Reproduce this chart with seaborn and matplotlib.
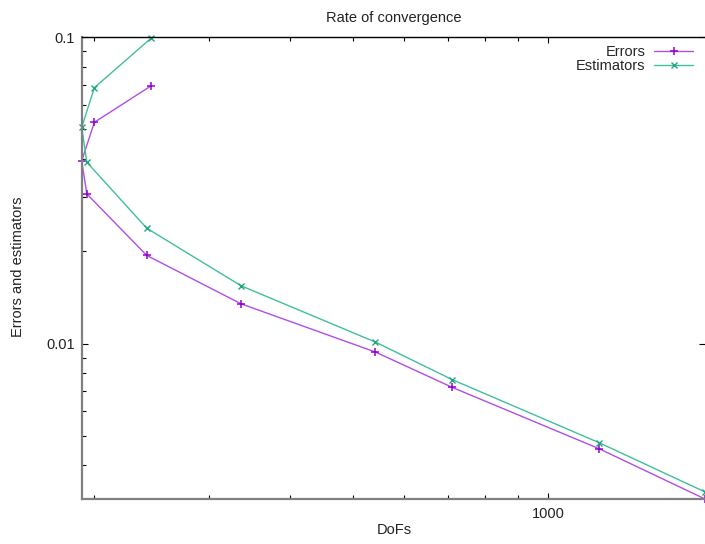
import pandas as pd
import matplotlib
matplotlib.use("Agg")
import matplotlib.pyplot as plt
import matplotlib.ticker as mticker
import seaborn as sns

# dados (ordem original dos pontos)
dofs = [244.5, 200, 191.2, 194.7, 240.8, 336.5, 542, 712, 1197, 1743]
errors = [0.0694, 0.0528, 0.0395, 0.0308, 0.0194, 0.01348, 0.00938, 0.00719, 0.00454, 0.00311]
estimators = [0.0993, 0.0685, 0.0508, 0.0391, 0.0238, 0.01544, 0.01011, 0.00762, 0.00475, 0.00328]

titulo = "Rate of convergence"
rotulo_x = "DoFs"
rotulo_y = "Errors and estimators"


def main():
    sns.set_theme(style="white")
    plt.rcParams['font.family'] = ['Liberation Sans', 'DejaVu Sans']
    plt.rcParams['font.size'] = 10.5

    df = pd.DataFrame({'DoFs': dofs, 'Errors': errors, 'Estimators': estimators})

    fig = plt.figure(figsize=(7.05, 5.44), dpi=100)
    ax = fig.add_axes([0.1159, 0.0833, 0.8841, 0.8481])

    sns.lineplot(data=df, x='DoFs', y='Errors', sort=False, estimator=None, ax=ax,
                 color='#b04ee6', marker='+', markersize=6, markeredgewidth=1.1,
                 markeredgecolor='#9400d3', linewidth=1.0, label='Errors', clip_on=False)
    sns.lineplot(data=df, x='DoFs', y='Estimators', sort=False, estimator=None, ax=ax,
                 color='#40bf9c', marker='x', markersize=5, markeredgewidth=1.0,
                 markeredgecolor='#20a882', linewidth=1.0, label='Estimators', clip_on=False)

    ax.set_xscale('log')
    ax.set_yscale('log')
    ax.set_xlim(191.2, 1745)
    ax.set_ylim(0.003114, 0.1)

    # ticks estilo gnuplot
    ax.xaxis.set_major_locator(mticker.FixedLocator([1000]))
    ax.xaxis.set_major_formatter(mticker.FixedFormatter(['1000']))
    ax.xaxis.set_minor_locator(mticker.LogLocator(base=10, subs=range(2, 10)))
    ax.xaxis.set_minor_formatter(mticker.NullFormatter())
    ax.yaxis.set_major_locator(mticker.FixedLocator([0.01, 0.1]))
    ax.yaxis.set_major_formatter(mticker.FixedFormatter(['0.01', '0.1']))
    ax.yaxis.set_minor_locator(mticker.LogLocator(base=10, subs=range(2, 10)))
    ax.yaxis.set_minor_formatter(mticker.NullFormatter())

    ax.tick_params(which='both', direction='in', top=True, right=True,
                   bottom=True, left=True, color='black', width=0.8)
    ax.tick_params(which='major', length=4.5, labelsize=10.5, labelcolor='#222222')
    ax.tick_params(axis='y', which='major', pad=5)
    ax.tick_params(axis='x', which='major', pad=6)
    ax.tick_params(which='minor', length=3)
    ax.tick_params(axis='y', which='minor', right=False)

    for lado in ['left', 'bottom']:
        ax.spines[lado].set_color('#808080')
        ax.spines[lado].set_linewidth(1.6)
    ax.spines['top'].set_color('black')
    ax.spines['top'].set_linewidth(1.0)
    ax.spines['right'].set_visible(False)

    ax.set_title(titulo, fontsize=10.5, pad=11, color='#222222')
    ax.set_xlabel(rotulo_x, fontsize=10.5, color='#222222')
    ax.set_ylabel(rotulo_y, fontsize=10.5, color='#222222')
    ax.xaxis.set_label_coords(0.501, -0.052)
    ax.yaxis.set_label_coords(-0.091, 0.502)

    ax.legend(loc='upper right', bbox_to_anchor=(0.9807, 0.983), frameon=False,
              markerfirst=False, borderpad=0, borderaxespad=0, labelspacing=0.0,
              handlelength=2.67, handletextpad=0.6, fontsize=10.5)

    fig.savefig('out.png', dpi=100)
    plt.close(fig)


if __name__ == "__main__":
    main()
